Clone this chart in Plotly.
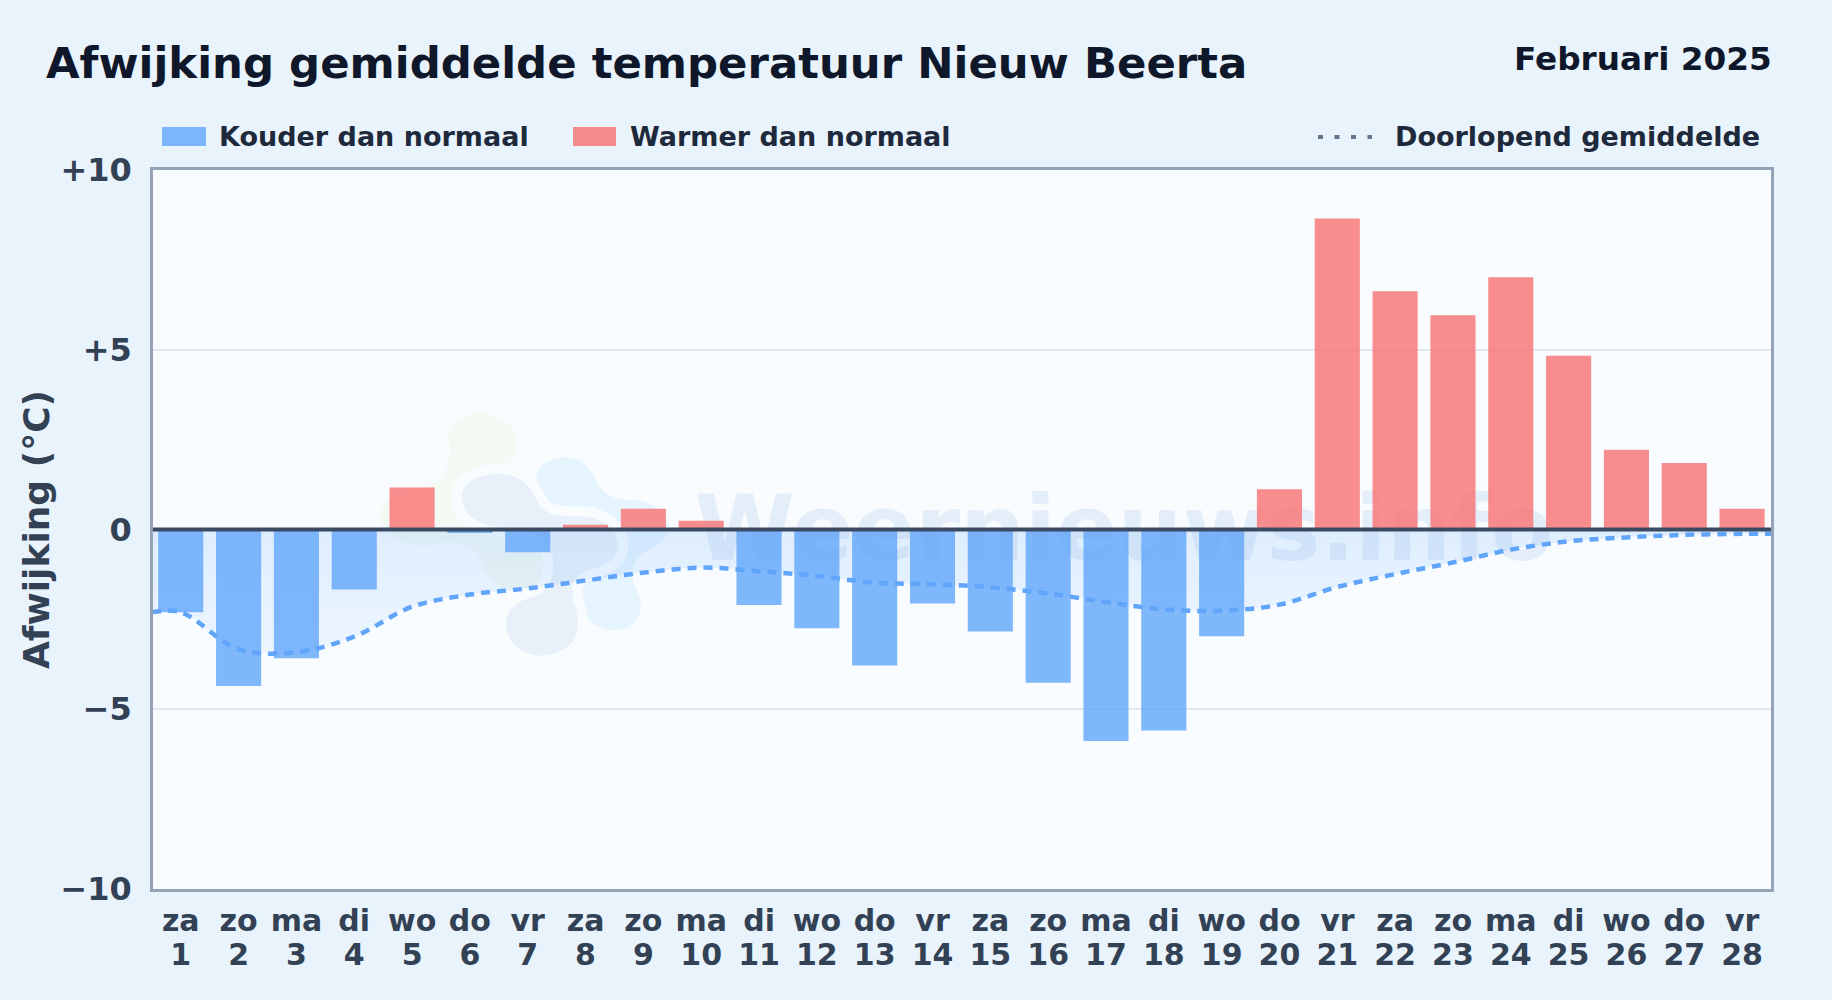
import plotly.graph_objects as go

# ---------- data ----------
days = list(range(1, 29))
weekdays = ["za", "zo", "ma", "di", "wo", "do", "vr"] * 4
anomaly = [-2.3, -4.35, -3.58, -1.67, 1.17, -0.1, -0.63, 0.13, 0.58, 0.24,
           -2.1, -2.75, -3.78, -2.06, -2.84, -4.26, -5.88, -5.59, -2.97, 1.12,
           8.65, 6.63, 5.96, 7.02, 4.83, 2.22, 1.85, 0.58]
mean_x = [0.5] + days + [28.5]
mean_y = [-2.3, -2.3, -3.33, -3.41, -2.98, -2.15, -1.81, -1.64, -1.42, -1.2, -1.06,
          -1.16, -1.29, -1.48, -1.52, -1.61, -1.78, -2.02, -2.22, -2.26, -2.09,
          -1.6, -1.24, -0.92, -0.56, -0.33, -0.22, -0.15, -0.12, -0.12]
y_ticks = [-10, -5, 0, 5, 10]
y_labels = ["\u221210", "\u22125", "0", "+5", "+10"]

TITLE = "Afwijking gemiddelde temperatuur Nieuw Beerta"
PERIOD = "Februari 2025"
COLD = "Kouder dan normaal"
WARM = "Warmer dan normaal"
RUN = "Doorlopend gemiddelde"
MARK = "Weernieuws.info"

# ---------- layout helpers (page pixels to paper fractions) ----------
W, H = 1832, 1000
L, R, T, B = 153, 1771, 170, 889.5
FONT = "DejaVu Sans"
def px(x): return (x - L) / (R - L)
def py(y): return (B - y) / (B - T)

def zoom_path(segments):
    """Logo outline: numbers are positions in logo artwork, converted to paper."""
    out = []
    for cmd, pts in segments:
        c = [f"{px(370 + a / 3):.5f},{py(400 + b / 3):.5f}" for a, b in pts]
        out.append(cmd + " ".join(c))
    return " ".join(out) + " Z"

green = [("M", [(235, 100)]),
         ("C", [(235, 65), (285, 40), (335, 40)]), ("C", [(395, 40), (440, 85), (440, 130)]),
         ("C", [(440, 170), (420, 195), (380, 205)]), ("C", [(330, 215), (290, 300), (330, 360)]),
         ("C", [(420, 380), (540, 420), (550, 500)]), ("C", [(555, 540), (480, 575), (420, 570)]),
         ("C", [(370, 560), (340, 520), (330, 480)]), ("C", [(310, 430), (270, 425), (210, 430)]),
         ("C", [(130, 450), (40, 420), (30, 350)]), ("C", [(30, 290), (120, 270), (170, 260)]),
         ("C", [(215, 245), (240, 200), (240, 160)]), ("C", [(240, 130), (235, 120), (235, 100)])]
blue = [("M", [(500, 230)]),
        ("C", [(500, 195), (545, 172), (585, 172)]), ("C", [(630, 172), (660, 200), (675, 235)]),
        ("C", [(690, 275), (720, 298), (770, 300)]), ("C", [(840, 300), (895, 335), (895, 380)]),
        ("C", [(895, 420), (860, 440), (825, 455)]), ("C", [(790, 475), (780, 510), (790, 550)]),
        ("C", [(805, 585), (815, 610), (812, 630)]), ("C", [(805, 670), (770, 692), (730, 692)]),
        ("C", [(680, 692), (630, 650), (620, 590)]), ("C", [(620, 520), (680, 480), (700, 440)]),
        ("C", [(680, 390), (600, 350), (560, 330)]), ("C", [(520, 310), (500, 270), (500, 230)])]
grey = [("M", [(275, 290)]),
        ("C", [(275, 240), (340, 222), (390, 222)]), ("C", [(450, 222), (480, 260), (500, 300)]),
        ("C", [(520, 345), (560, 350), (620, 350)]), ("C", [(690, 345), (745, 390), (745, 435)]),
        ("C", [(745, 480), (700, 500), (660, 510)]), ("C", [(610, 525), (600, 560), (610, 600)]),
        ("C", [(625, 640), (625, 670), (620, 700)]), ("C", [(605, 750), (550, 768), (510, 768)]),
        ("C", [(450, 765), (405, 720), (408, 670)]), ("C", [(410, 630), (440, 605), (480, 595)]),
        ("C", [(540, 580), (550, 530), (550, 490)]), ("C", [(550, 430), (500, 395), (430, 385)]),
        ("C", [(350, 385), (275, 360), (275, 290)])]

PLOT_BG = "#f8fcff"
PAPER_BG = "#e8f3fc"

shapes = [
    dict(type="path", path=zoom_path(green), xref="paper", yref="paper", layer="below",
         fillcolor="#f3f9f3", line=dict(width=0)),
    dict(type="path", path=zoom_path(blue), xref="paper", yref="paper", layer="below",
         fillcolor="#e6f4fe", line=dict(width=0)),
    dict(type="path", path=zoom_path(grey), xref="paper", yref="paper", layer="below",
         fillcolor=PLOT_BG, line=dict(color=PLOT_BG, width=20)),
    dict(type="path", path=zoom_path(grey), xref="paper", yref="paper", layer="below",
         fillcolor="#e8f1f9", line=dict(width=0)),
    dict(type="rect", xref="paper", yref="paper", layer="below",
         x0=px(644), x1=px(1604), y0=py(464), y1=py(580),
         line=dict(width=0), fillcolor="rgba(0,0,0,0)",
         label=dict(text=MARK, textposition="middle center",
                    font=dict(family=FONT, size=91, color="#e4eef8", weight="bold"))),
    # zero line on top of the bars
    dict(type="line", xref="paper", yref="y", x0=0, x1=1, y0=0, y1=0, layer="above",
         line=dict(color="#3b4a60", width=4)),
    # legend keys
    dict(type="rect", xref="paper", yref="paper", x0=px(162), x1=px(206), y0=py(127), y1=py(146),
         fillcolor="rgba(96,165,250,0.8)", line=dict(width=0)),
    dict(type="rect", xref="paper", yref="paper", x0=px(573), x1=px(616), y0=py(127), y1=py(146),
         fillcolor="rgba(248,113,113,0.8)", line=dict(width=0)),
    dict(type="line", xref="paper", yref="paper", x0=px(1318), x1=px(1372), y0=py(137), y1=py(137),
         line=dict(color="#64748b", width=4, dash="5px,11.5px")),
]

def note(text, x, y, size, color, xanchor="left", **kw):
    return dict(text=text, x=px(x), y=py(y), xref="paper", yref="paper", showarrow=False,
                xanchor=xanchor, yanchor="middle",
                font=dict(family=FONT, size=size, color=color, weight="bold"), **kw)

annotations = [
    note(TITLE, 44, 63, 43.4, "#0f172a"),
    note(PERIOD, 1774, 59, 32.7, "#0f172a", xanchor="right"),
    note(COLD, 217, 136, 27, "#1e293b"),
    note(WARM, 628, 136, 27, "#1e293b"),
    note(RUN, 1393, 136, 27, "#1e293b"),
]

cold_x = [d for d, v in zip(days, anomaly) if v < 0]
cold_y = [v for v in anomaly if v < 0]
warm_x = [d for d, v in zip(days, anomaly) if v >= 0]
warm_y = [v for v in anomaly if v >= 0]

fig = go.Figure()
fig.add_trace(go.Scatter(
    x=mean_x, y=mean_y, mode="lines", name=RUN, fill="tozeroy",
    line=dict(color="rgba(0,0,0,0)", width=0, shape="spline"),
    fillgradient=dict(type="vertical", start=0, stop=-3.5,
                      colorscale=[[0, "rgba(96,165,250,0.17)"], [1, "rgba(96,165,250,0.07)"]]),
    hoverinfo="skip", showlegend=False))
fig.add_trace(go.Bar(x=cold_x, y=cold_y, name=COLD, marker=dict(color="#60a5fa", opacity=0.8, line=dict(width=0))))
fig.add_trace(go.Bar(x=warm_x, y=warm_y, name=WARM, marker=dict(color="#f87171", opacity=0.8, line=dict(width=0))))
fig.add_trace(go.Scatter(
    x=mean_x, y=mean_y, mode="lines", name=RUN,
    line=dict(color="#60a5fa", width=4.5, shape="spline", dash="9px,7px")))

fig.update_layout(
    width=W, height=H, margin=dict(l=L, r=W - R, t=T, b=H - B, pad=0, autoexpand=False),
    paper_bgcolor=PAPER_BG, plot_bgcolor=PLOT_BG,
    barmode="overlay", bargap=0.22, showlegend=False, hovermode=False,
    font=dict(family=FONT, color="#334155"),
    shapes=shapes, annotations=annotations,
    xaxis=dict(range=[0.52, 28.5], tickmode="array", tickvals=days,
               ticktext=[f'<span style="font-size:30px">{w}</span><br><span style="font-size:30px">{d}</span>'
                         for w, d in zip(weekdays, days)],
               tickangle=0, ticks="", showgrid=False, zeroline=False, ticklabelstandoff=8,
               showline=True, mirror=True, linecolor="#94a3b8", linewidth=2.5,
               tickfont=dict(family=FONT, size=26, color="#334155", weight="bold")),
    yaxis=dict(range=[-10, 10], tickmode="array", tickvals=y_ticks, ticktext=y_labels,
               ticks="", showgrid=True, gridcolor="#e2e8f0", gridwidth=1.5, zeroline=False,
               ticklabelstandoff=12,
               showline=True, mirror=True, linecolor="#94a3b8", linewidth=2.5,
               tickfont=dict(family=FONT, size=32, color="#334155", weight="bold"),
               title=dict(text="Afwijking (\u00b0C)", standoff=0,
                          font=dict(family=FONT, size=36, color="#334155", weight="bold"))),
)

fig.write_html("out.html", config={"displayModeBar": False, "responsive": False},
               post_script="document.body.style.margin='0';document.body.style.background='#e8f3fc';")
